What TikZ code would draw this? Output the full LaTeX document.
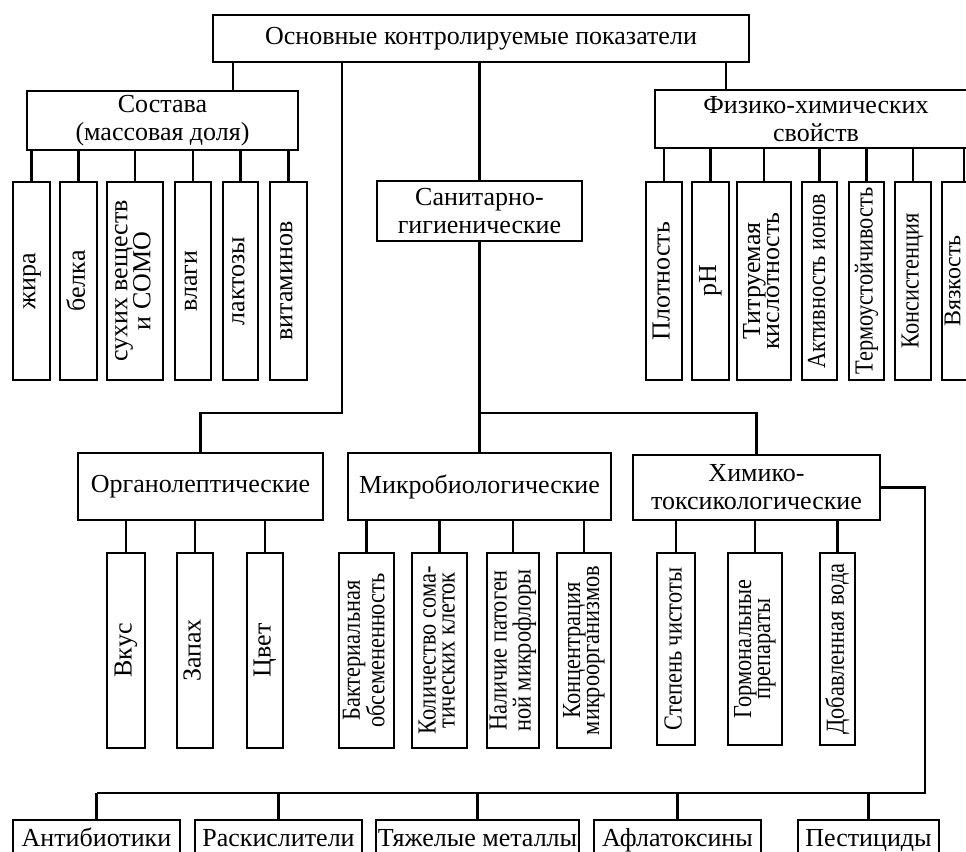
\documentclass[tikz,border=0pt]{standalone}
\usepackage{fontspec}
\setmainfont{Liberation Serif}
\newfontfamily\narrowfont[FakeStretch=0.86]{Liberation Serif}
\usepackage{graphicx}
\newcommand{\vlabel}[1]{\rotatebox{90}{\renewcommand{\arraystretch}{0.8}\begin{tabular}{@{}c@{}}#1\end{tabular}}}

\begin{document}
\begin{tikzpicture}[x=0.5pt, y=-0.5pt, line width=1.2pt,
    main/.style = {draw, rectangle, align=center, inner sep=1pt, font=\fontsize{13}{14}\selectfont},
    leaf/.style = {draw, rectangle, inner sep=0pt, font=\fontsize{13}{12}\selectfont},
    slim/.style = {leaf, font=\fontsize{13}{12}\narrowfont},
    bottom/.style = {main, text height=9pt, text depth=3pt},
    sz/.style 2 args = {minimum width=#1*0.5pt, minimum height=#2*0.5pt}]
    \useasboundingbox (0,0) rectangle (966,852);
    \clip (0,0) rectangle (966,852);

    \node[main, sz={536}{47}] (osn) at (481,38.5) {Основные контролируемые показатели};
    \node[main, sz={271}{59}] (sost) at (162.5,120.5) {Состава\\(массовая доля)};
    \node[main, sz={322}{58}] (fiz) at (816,119) {Физико-химических\\свойств};
    \node[main, sz={205}{60}] (san) at (479.5,211) {Санитарно-\\гигиенические};
    \node[main, sz={245}{67}] (org) at (200.5,486.5) {Органолептические};
    \node[main, sz={263}{67}] (mik) at (479.5,486.5) {Микробиологические};
    \node[main, sz={247}{65}] (him) at (756.5,487.5) {Химико-\\токсикологические};

    % состав
    \node[leaf, sz={37}{198}] (zh) at (31.5,281) {\vlabel{жира}};
    \node[leaf, sz={37}{198}] (bel) at (78.5,281) {\vlabel{белка}};
    \node[leaf, sz={56}{198}] (suh) at (135,281) {\vlabel{сухих веществ\\и СОМО}};
    \node[leaf, sz={36}{198}] (vla) at (193,281) {\vlabel{влаги}};
    \node[leaf, sz={35}{198}] (lak) at (240.5,281) {\vlabel{лактозы}};
    \node[leaf, sz={37}{198}] (vit) at (288.5,281) {\vlabel{витаминов}};

    % физико-химические свойства
    \node[leaf, sz={36}{198}] (plo) at (664,281) {\vlabel{Плотность}};
    \node[leaf, sz={37}{198}] (ph) at (710.5,281) {\vlabel{pH}};
    \node[leaf, sz={54}{198}] (tit) at (764,281) {\vlabel{Титруемая\\кислотность}};
    \node[slim, sz={35}{198}] (akt) at (819.5,281) {\vlabel{Активность ионов}};
    \node[slim, sz={35}{198}] (ter) at (866.5,281) {\vlabel{Термоустойчивость}};
    \node[slim, sz={36}{198}] (kon) at (913,281) {\vlabel{Консистенция}};
    \node[leaf, sz={27}{198}, font=\fontsize{12}{12}\selectfont] (vya) at (955.5,281) {\vlabel{Вязкость}};

    % органолептические
    \node[leaf, sz={38}{195}] (vku) at (126,650.5) {\vlabel{Вкус}};
    \node[leaf, sz={36}{195}] (zap) at (195,650.5) {\vlabel{Запах}};
    \node[leaf, sz={36}{195}] (cve) at (265,650.5) {\vlabel{Цвет}};

    % микробиологические
    \node[slim, sz={55}{195}] (bak) at (366.5,650.5) {\vlabel{Бактериальная\\обсемененность}};
    \node[slim, sz={55}{195}] (kol) at (439.5,650.5) {\vlabel{Количество сома-\\тических клеток}};
    \node[slim, sz={52}{195}] (nal) at (513,650.5) {\vlabel{Наличие патоген\\ной микрофлоры}};
    \node[slim, sz={54}{195}] (kc) at (584,650.5) {\vlabel{Концентрация\\микроорганизмов}};

    % химико-токсикологические
    \node[slim, sz={38}{192}] (ste) at (676,649) {\vlabel{Степень чистоты}};
    \node[slim, sz={54}{192}] (gor) at (755,649) {\vlabel{Гормональные\\препараты}};
    \node[slim, sz={35}{192}] (dob) at (837.5,649) {\vlabel{Добавленная вода}};

    \node[bottom, sz={167}{40}] (ant) at (96.5,840) {Антибиотики};
    \node[bottom, sz={167}{40}] (ras) at (278.5,840) {Раскислители};
    \node[bottom, sz={197}{40}] (tya) at (477.5,840) {Тяжелые металлы};
    \node[bottom, sz={167}{40}] (afl) at (677.5,840) {Афлатоксины};
    \node[bottom, sz={141}{40}] (pes) at (868.5,840) {Пестициды};

    \coordinate (c1) at (233,0);
    \coordinate (c2) at (342,413);
    \coordinate (c3) at (726,0);
    \coordinate (c4) at (925,793);

    \draw (c1 |- osn.south) -- (c1 |- sost.north);
    \draw (org.north) |- (c2) -- (c2 |- osn.south);
    \draw (c3 |- osn.south) -- (c3 |- fiz.north);
    \draw (him.north) |- (san.south |- c2);
    \draw (him.east) -| (c4) -- (c4 -| ant.north);

    \path
    (san.north) edge (san.north |- osn.south)
    (san.south) edge (mik.north)

    (zh.north) edge (zh.north |- sost.south)
    (bel.north) edge (bel.north |- sost.south)
    (suh.north) edge (suh.north |- sost.south)
    (vla.north) edge (vla.north |- sost.south)
    (lak.north) edge (lak.north |- sost.south)
    (vit.north) edge (vit.north |- sost.south)

    (plo.north) edge (plo.north |- fiz.south)
    (ph.north) edge (ph.north |- fiz.south)
    (tit.north) edge (tit.north |- fiz.south)
    (akt.north) edge (akt.north |- fiz.south)
    (ter.north) edge (ter.north |- fiz.south)
    (kon.north) edge (kon.north |- fiz.south)
    ([xshift=-3pt]vya.north east) edge ([xshift=-3pt]vya.north east |- fiz.south)

    (vku.north) edge (vku.north |- org.south)
    (zap.north) edge (zap.north |- org.south)
    (cve.north) edge (cve.north |- org.south)

    (bak.north) edge (bak.north |- mik.south)
    (kol.north) edge (kol.north |- mik.south)
    (nal.north) edge (nal.north |- mik.south)
    (kc.north) edge (kc.north |- mik.south)

    (ste.north) edge (ste.north |- him.south)
    (gor.north) edge (gor.north |- him.south)
    (dob.north) edge (dob.north |- him.south)

    (ant.north) edge (ant.north |- c4)
    (ras.north) edge (ras.north |- c4)
    (tya.north) edge (tya.north |- c4)
    (afl.north) edge (afl.north |- c4)
    (pes.north) edge (pes.north |- c4)
    ;
\end{tikzpicture}
\end{document}
